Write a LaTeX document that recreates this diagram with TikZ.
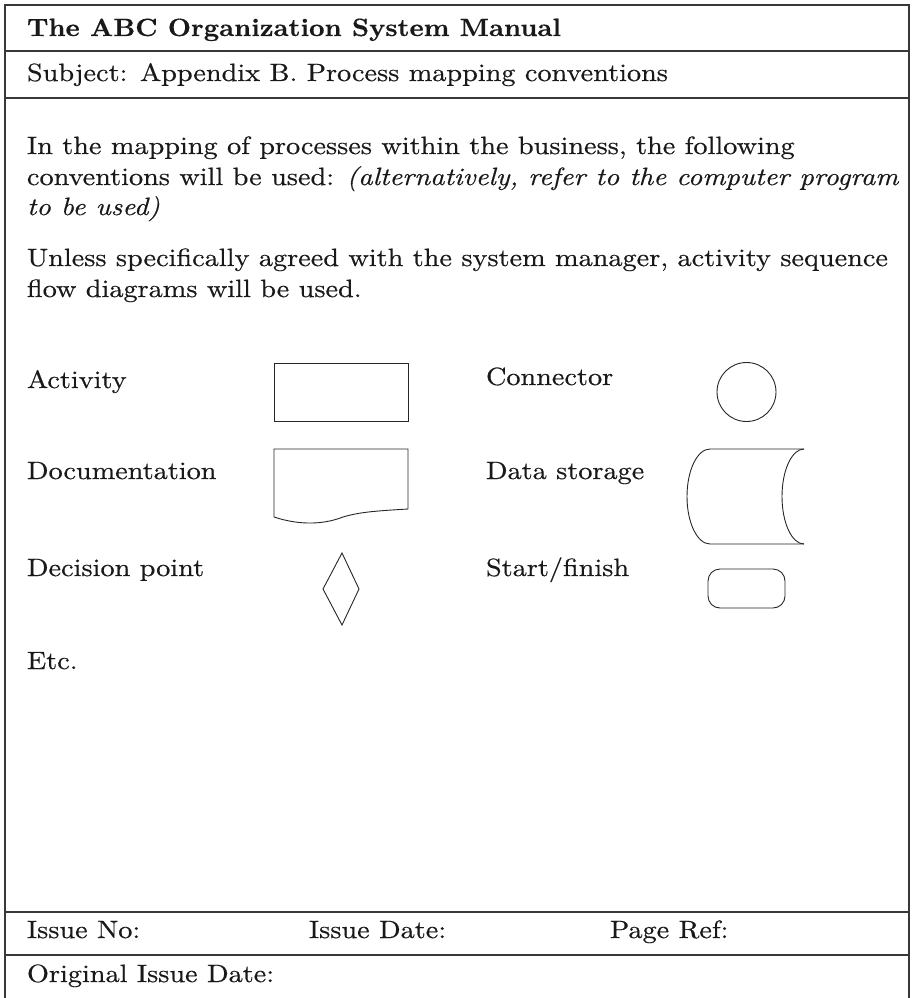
\documentclass[tikz,border=0pt]{standalone}
\usepackage{graphicx}
\usepackage{fontspec}
\setmainfont{lmroman10-regular.otf}[
  BoldFont=lmroman10-bold.otf,
  ItalicFont=lmroman10-italic.otf,
  BoldItalicFont=lmroman10-bolditalic.otf,
  FakeStretch=1.13, FakeBold=0.5]
\newcommand{\fitto}[2]{\resizebox{#1pt}{\height}{#2}}
\tikzset{
  txt/.style={anchor=base west, inner sep=0pt, outer sep=0pt, text=black!90},
  frameline/.style={draw=black!78, line width=1.3pt},
  shapeline/.style={draw=black!85, line width=0.9pt},
}
\begin{document}
\begin{tikzpicture}[x=1pt,y=-1pt]
\useasboundingbox (0,0) rectangle (911,998);
\fontsize{25}{31}\selectfont
% frame
\draw[frameline] (5,998) -- (5,5) -- (909,5) -- (909,998);
\draw[frameline] (5,51) -- (909,51);
\draw[frameline] (5,98) -- (909,98);
\draw[frameline] (5,912) -- (909,912);
\draw[frameline] (5,955) -- (909,955);
% header texts
\node[txt] (title) at (27,36) {\fitto{534}{\bfseries The ABC Organization System Manual}};
\node[txt] (subj) at (27,81) {Subject: Appendix B. Process mapping conventions};
% body
\node[txt] (l1) at (27,154) {In the mapping of processes within the business, the following};
\node[txt] (l2) at (27,185) {conventions will be used: \itshape(alternatively, refer to the computer program};
\node[txt] (l3) at (27,215) {\itshape to be used)};
\node[txt] (l4) at (27,266) {Unless specifically agreed with the system manager, activity sequence};
\node[txt] (l5) at (27,297) {flow diagrams will be used.};
% labels
\node[txt] (lact) at (27,388) {Activity};
\node[txt] (ldoc) at (27,479) {Documentation};
\node[txt] (ldec) at (27,576) {Decision point};
\node[txt] (letc) at (27,669) {Etc.};
\node[txt] (lcon) at (486,385) {Connector};
\node[txt] (ldat) at (486,479) {Data storage};
\node[txt] (lsf) at (486,576) {Start/finish};
% footer
\node[txt] (iss) at (27,938) {Issue No:};
\node[txt] (idate) at (309,938) {Issue Date:};
\node[txt] (pref) at (610,938) {Page Ref:};
\node[txt] (orig) at (27,982) {Original Issue Date:};
% shapes
\node[shapeline, rectangle, minimum width=134pt, minimum height=58pt, inner sep=0pt] (act) at (341,392) {};
\draw[shapeline] (274,449) -- (408,449) -- (408,509)
  .. controls (375,511) and (360,512) .. (343,517)
  .. controls (320,526) and (295,524) .. (274,517) -- cycle;
\draw[shapeline] (342,553) -- (359,589) -- (342,625) -- (323,589) -- cycle;
\node[shapeline, circle, minimum size=59pt, inner sep=0pt] (con) at (746.5,392) {};
\draw[shapeline] (804,449) -- (710,449) arc[start angle=270, end angle=90, x radius=23, y radius=47.5] -- (804,544);
\draw[shapeline] (804,449) arc[start angle=270, end angle=90, x radius=22, y radius=47.5];
\node[shapeline, rectangle, rounded corners=12pt, minimum width=77pt, minimum height=39pt, inner sep=0pt] (sf) at (746.5,588.5) {};
\end{tikzpicture}
\end{document}
